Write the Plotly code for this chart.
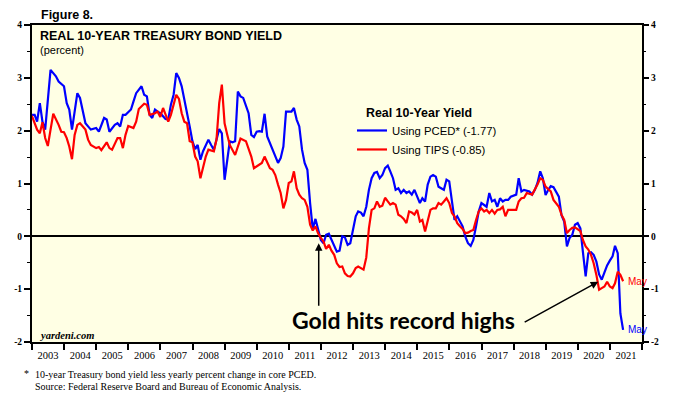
import plotly.graph_objects as go
import pandas as pd

# ---------------- data ----------------
pced_months = [
    "2002-12", "2003-01", "2003-02", "2003-03", "2003-04", "2003-05", "2003-07", "2003-09", "2003-10", "2003-12",
    "2004-01", "2004-02", "2004-03", "2004-04", "2004-05", "2004-06", "2004-07", "2004-08", "2004-10", "2004-12",
    "2005-01", "2005-03", "2005-04", "2005-05", "2005-07", "2005-08", "2005-09", "2005-10", "2005-11",
    "2006-01", "2006-02", "2006-03", "2006-05", "2006-06", "2006-07", "2006-08", "2006-09", "2006-10", "2006-11", "2006-12",
    "2007-02", "2007-03", "2007-04", "2007-05", "2007-06", "2007-07", "2007-08", "2007-09", "2007-10", "2007-11", "2007-12",
    "2008-01", "2008-02", "2008-03", "2008-04", "2008-06", "2008-07", "2008-08", "2008-09", "2008-10", "2008-11", "2008-12",
    "2009-01", "2009-02", "2009-03", "2009-04", "2009-05", "2009-06", "2009-07", "2009-09", "2009-10", "2009-11", "2009-12",
    "2010-01", "2010-02", "2010-03", "2010-04", "2010-05", "2010-06", "2010-08", "2010-09", "2010-10", "2010-11",
    "2011-01", "2011-02", "2011-03", "2011-04", "2011-05", "2011-06", "2011-07", "2011-08", "2011-09", "2011-10", "2011-11", "2011-12",
    "2012-01", "2012-02", "2012-03", "2012-04", "2012-06", "2012-07", "2012-08", "2012-09", "2012-10", "2012-11", "2012-12",
    "2013-01", "2013-02", "2013-03", "2013-04", "2013-05", "2013-06", "2013-07", "2013-08", "2013-09", "2013-10", "2013-11", "2013-12",
    "2014-01", "2014-02", "2014-03", "2014-04", "2014-05", "2014-06", "2014-07", "2014-08", "2014-09", "2014-10", "2014-11",
    "2015-01", "2015-02", "2015-03", "2015-04", "2015-05", "2015-06", "2015-07", "2015-08", "2015-09", "2015-10", "2015-11", "2015-12",
    "2016-01", "2016-02", "2016-03", "2016-04", "2016-05", "2016-06", "2016-07", "2016-08", "2016-09", "2016-10", "2016-11", "2016-12",
    "2017-01", "2017-02", "2017-03", "2017-04", "2017-05", "2017-06", "2017-07", "2017-08", "2017-09", "2017-10", "2017-11",
    "2018-01", "2018-02", "2018-03", "2018-04", "2018-06", "2018-07", "2018-08", "2018-09", "2018-10", "2018-11", "2018-12",
    "2019-01", "2019-02", "2019-03", "2019-04", "2019-05", "2019-06", "2019-07", "2019-08", "2019-09", "2019-10", "2019-11", "2019-12",
    "2020-01", "2020-02", "2020-03", "2020-04", "2020-05", "2020-06", "2020-07", "2020-08", "2020-09", "2020-10", "2020-11", "2020-12",
    "2021-01", "2021-02", "2021-03", "2021-04", "2021-05",
]
pced_values = [
    2.30, 2.30, 2.17, 2.52, 2.17, 2.02, 3.15, 3.03, 2.93, 2.84,
    2.52, 2.40, 2.02, 2.40, 2.71, 2.62, 2.40, 2.14, 2.02, 2.05,
    1.98, 2.24, 2.21, 1.98, 2.11, 2.14, 2.08, 2.30, 2.30,
    2.40, 2.55, 2.71, 2.84, 2.68, 2.65, 2.30, 2.24, 2.40, 2.36, 2.33,
    2.22, 2.21, 2.49, 2.68, 3.09, 3.00, 2.84, 2.59, 2.40, 2.08, 1.80,
    1.65, 1.73, 1.45, 1.61, 1.83, 1.73, 1.64, 1.83, 2.03, 1.95, 1.07,
    1.45, 1.80, 1.78, 1.80, 2.74, 2.65, 2.62, 2.33, 1.92, 1.88, 1.98,
    1.99, 1.98, 2.32, 1.89, 1.77, 1.64, 1.39, 1.48, 1.70, 2.36,
    2.36, 2.43, 2.21, 2.08, 1.64, 1.39, 1.26, 0.63, 0.14, 0.33, 0.12, -0.07,
    -0.13, 0.03, 0.05, -0.07, -0.29, -0.27, 0.00, -0.02, -0.16, -0.13, 0.12,
    0.38, 0.47, 0.45, 0.38, 0.56, 0.88, 1.10, 1.20, 1.22, 1.10, 1.16, 1.29,
    1.34, 1.23, 1.10, 0.88, 0.91, 0.82, 0.88, 0.82, 0.85, 0.79, 0.88,
    0.63, 0.72, 0.66, 0.98, 1.13, 1.16, 1.13, 0.94, 0.91, 0.88, 1.07, 1.04,
    0.66, 0.31, 0.38, 0.28, 0.19, 0.00, -0.13, -0.18, -0.07, 0.19, 0.47, 0.63,
    0.60, 0.56, 0.82, 0.66, 0.69, 0.56, 0.72, 0.66, 0.69, 0.69, 0.75,
    0.79, 1.10, 0.85, 0.88, 0.85, 0.79, 0.88, 1.01, 1.23, 1.10, 0.78,
    0.88, 0.95, 0.93, 0.85, 0.75, 0.40, 0.28, -0.19, -0.03, 0.03, 0.22, 0.25,
    0.15, -0.30, -0.76, -0.32, -0.30, -0.35, -0.48, -0.72, -0.82, -0.68, -0.55, -0.46,
    -0.38, -0.18, -0.32, -1.46, -1.77,
]

tips_months = [
    "2002-12", "2003-02", "2003-03", "2003-04", "2003-05", "2003-06", "2003-07", "2003-08", "2003-10", "2003-11", "2003-12",
    "2004-01", "2004-02", "2004-03", "2004-04", "2004-05", "2004-06", "2004-08", "2004-09", "2004-10", "2004-12",
    "2005-01", "2005-02", "2005-04", "2005-05", "2005-06", "2005-08", "2005-09", "2005-10", "2005-11", "2005-12",
    "2006-02", "2006-03", "2006-04", "2006-06", "2006-07", "2006-08", "2006-10", "2006-11", "2006-12",
    "2007-01", "2007-02", "2007-03", "2007-04", "2007-05", "2007-06", "2007-07", "2007-08", "2007-09", "2007-10", "2007-11", "2007-12",
    "2008-01", "2008-02", "2008-03", "2008-04", "2008-05", "2008-06", "2008-08", "2008-09", "2008-10", "2008-11", "2008-12",
    "2009-01", "2009-02", "2009-04", "2009-05", "2009-06", "2009-08", "2009-09", "2009-10", "2009-11",
    "2010-01", "2010-02", "2010-03", "2010-05", "2010-06", "2010-07", "2010-08", "2010-09", "2010-10", "2010-11", "2010-12",
    "2011-01", "2011-02", "2011-03", "2011-04", "2011-05", "2011-06", "2011-07", "2011-08", "2011-09", "2011-10", "2011-11", "2011-12",
    "2012-01", "2012-02", "2012-03", "2012-04", "2012-05", "2012-06", "2012-07", "2012-08", "2012-09", "2012-10", "2012-11", "2012-12",
    "2013-01", "2013-02", "2013-03", "2013-04", "2013-05", "2013-06", "2013-07", "2013-08", "2013-09", "2013-10", "2013-11", "2013-12",
    "2014-01", "2014-02", "2014-03", "2014-04", "2014-05", "2014-06", "2014-07", "2014-08", "2014-09", "2014-10", "2014-11", "2014-12",
    "2015-01", "2015-02", "2015-03", "2015-04", "2015-05", "2015-06", "2015-07", "2015-08", "2015-09", "2015-10", "2015-11", "2015-12",
    "2016-01", "2016-02", "2016-03", "2016-04", "2016-05", "2016-06", "2016-07", "2016-08", "2016-09", "2016-10", "2016-11", "2016-12",
    "2017-01", "2017-02", "2017-03", "2017-04", "2017-05", "2017-06", "2017-07", "2017-08", "2017-09", "2017-10", "2017-11",
    "2018-01", "2018-02", "2018-03", "2018-04", "2018-05", "2018-07", "2018-08", "2018-09", "2018-10", "2018-11", "2018-12",
    "2019-02", "2019-03", "2019-04", "2019-05", "2019-06", "2019-07", "2019-08", "2019-09", "2019-10", "2019-11",
    "2020-01", "2020-02", "2020-03", "2020-04", "2020-05", "2020-06", "2020-07", "2020-08", "2020-09", "2020-10", "2020-11", "2020-12",
    "2021-01", "2021-02", "2021-03", "2021-04", "2021-05",
]
tips_values = [
    2.28, 2.02, 1.95, 2.16, 1.86, 1.71, 2.02, 2.32, 2.11, 1.98, 1.97,
    1.86, 1.70, 1.46, 1.92, 2.11, 2.14, 2.02, 1.83, 1.73, 1.67,
    1.69, 1.63, 1.78, 1.67, 1.64, 1.86, 1.86, 1.67, 1.92, 2.09,
    2.05, 2.17, 2.41, 2.51, 2.49, 2.30, 2.33, 2.36, 2.26,
    2.43, 2.30, 2.17, 2.30, 2.52, 2.68, 2.60, 2.33, 2.17, 2.14, 1.80, 1.78,
    1.51, 1.42, 1.10, 1.32, 1.51, 1.64, 1.61, 1.83, 2.52, 2.87, 2.14,
    1.92, 1.73, 1.54, 1.70, 1.85, 1.80, 1.64, 1.51, 1.29,
    1.35, 1.39, 1.51, 1.29, 1.26, 1.16, 0.98, 0.82, 0.53, 0.69, 1.01,
    1.04, 1.23, 0.91, 0.79, 0.72, 0.69, 0.56, 0.22, 0.11, 0.19, 0.06, -0.03,
    -0.10, -0.24, -0.16, -0.27, -0.35, -0.51, -0.58, -0.57, -0.70, -0.75, -0.76, -0.70,
    -0.60, -0.57, -0.60, -0.63, -0.40, 0.15, 0.50, 0.53, 0.66, 0.56, 0.58, 0.73,
    0.66, 0.60, 0.63, 0.60, 0.41, 0.38, 0.33, 0.25, 0.47, 0.45, 0.41, 0.50,
    0.28, 0.31, 0.09, 0.31, 0.50, 0.53, 0.53, 0.63, 0.60, 0.66, 0.72, 0.63,
    0.44, 0.38, 0.25, 0.19, 0.14, 0.06, 0.07, 0.10, 0.12, 0.31, 0.47, 0.53,
    0.47, 0.50, 0.44, 0.50, 0.43, 0.50, 0.51, 0.56, 0.38, 0.50, 0.50,
    0.50, 0.66, 0.72, 0.73, 0.82, 0.79, 0.88, 0.98, 1.10, 1.07, 0.94,
    0.85, 0.69, 0.63, 0.56, 0.41, 0.31, 0.06, 0.12, 0.16, 0.17,
    0.10, -0.07, -0.19, -0.25, -0.35, -0.51, -0.73, -1.01, -0.98, -0.95, -0.86, -0.95,
    -0.98, -0.89, -0.67, -0.73, -0.85,
]

series_names = ["Using PCED* (-1.77)", "Using TIPS (-0.85)"]
y_tick_vals = [-2, -1, 0, 1, 2, 3, 4]
y_tick_text = ["-2", "-1", "0", "1", "2", "3", "4"]
y_minor_vals = [-1.5, -0.5, 0.5, 1.5, 2.5, 3.5]


def month_end(months):
    return pd.to_datetime(months, format="%Y-%m") + pd.offsets.MonthEnd(0)


pced_x = month_end(pced_months)
tips_x = month_end(tips_months)

BLUE = "#0000FF"
RED = "#FF0000"
SERIF = "Liberation Serif"
SANS = "Liberation Sans"

fig = go.Figure()
fig.add_trace(go.Scatter(x=pced_x, y=pced_values, mode="lines", name=series_names[0],
                         line=dict(color=BLUE, width=2.2)))
fig.add_trace(go.Scatter(x=tips_x, y=tips_values, mode="lines", name=series_names[1],
                         line=dict(color=RED, width=2.2), yaxis="y2"))

tickfont_y = dict(family=SERIF, size=9.5, color="black", weight="bold")

fig.update_layout(
    width=680, height=393,
    margin=dict(l=32, r=38, t=25, b=51),
    paper_bgcolor="white",
    plot_bgcolor="#FFFFE4",
    showlegend=True,
    legend=dict(x=0.5246, y=0.713, xanchor="left", yanchor="top",
                bgcolor="rgba(0,0,0,0)", borderwidth=0,
                font=dict(family=SANS, size=11.3, color="black"),
                itemwidth=30, tracegroupgap=0),
    xaxis=dict(type="date", range=["2003-01-01", "2022-01-01"],
               dtick="M12", tick0="2003-01-01", tickformat="%Y", ticklabelmode="period",
               ticks="outside", ticklen=6, tickwidth=1.5, tickcolor="black",
               ticklabelstandoff=-4,
               showline=True, linecolor="black", linewidth=2, mirror=True,
               showgrid=False, zeroline=False,
               tickfont=dict(family=SERIF, size=10.5, color="black")),
    yaxis=dict(range=[-2, 4], tickvals=y_tick_vals, ticktext=y_tick_text,
               ticks="outside", ticklen=6, tickwidth=1.5, tickcolor="black",
               minor=dict(tickvals=y_minor_vals, ticks="outside",
                          ticklen=3, tickwidth=1.2, tickcolor="black"),
               showline=True, linecolor="black", linewidth=2, mirror=True,
               showgrid=False, zeroline=True, zerolinecolor="black", zerolinewidth=1.5,
               tickfont=tickfont_y),
    yaxis2=dict(range=[-2, 4], overlaying="y", side="right", matches="y",
                tickvals=y_tick_vals, ticktext=y_tick_text,
                ticks="outside", ticklen=6, tickwidth=1.5, tickcolor="black",
                minor=dict(tickvals=y_minor_vals, ticks="outside",
                           ticklen=3, tickwidth=1.2, tickcolor="black"),
                showline=False, showgrid=False, zeroline=False,
                tickfont=tickfont_y),
)

W, H, L, T = 610.0, 317.0, 32.0, 25.0


def px(xp):
    return (xp - L) / W


def py(yp):
    return 1 - (yp - T) / H


ann = []
ann.append(dict(text="<b>Figure 8.</b>", x=px(39), y=py(15), xref="paper", yref="paper",
                xanchor="left", yanchor="middle", showarrow=False,
                font=dict(family=SANS, size=12.5, color="black")))
ann.append(dict(text="<b>REAL 10-YEAR TREASURY BOND YIELD</b>", x=px(38), y=py(36),
                xref="paper", yref="paper", xanchor="left", yanchor="middle", showarrow=False,
                font=dict(family=SANS, size=12.5, color="black")))
ann.append(dict(text="(percent)", x=px(38), y=py(50), xref="paper", yref="paper",
                xanchor="left", yanchor="middle", showarrow=False,
                font=dict(family=SANS, size=11, color="black")))
ann.append(dict(text="<b>Real 10-Year Yield</b>", x=px(364), y=py(113), xref="paper", yref="paper",
                xanchor="left", yanchor="middle", showarrow=False,
                font=dict(family=SANS, size=12.4, color="black")))
ann.append(dict(text="<b><i>yardeni.com</i></b>", x=px(37), y=py(335), xref="paper", yref="paper",
                xanchor="left", yanchor="middle", showarrow=False,
                font=dict(family=SERIF, size=10.5, color="black")))
ann.append(dict(text="<b>Gold hits record highs</b>", x=px(403), y=py(320), xref="paper", yref="paper",
                xanchor="center", yanchor="middle", showarrow=False,
                font=dict(family="Lato", size=23, color="black")))
ann.append(dict(text="*", x=px(22), y=py(373), xref="paper", yref="paper",
                xanchor="left", yanchor="middle", showarrow=False,
                font=dict(family=SERIF, size=10, color="black")))
ann.append(dict(text="10-year Treasury bond yield less yearly percent change in core PCED.",
                x=px(33), y=py(374), xref="paper", yref="paper",
                xanchor="left", yanchor="middle", showarrow=False,
                font=dict(family=SERIF, size=10, color="black")))
ann.append(dict(text="Source: Federal Reserve Board and Bureau of Economic Analysis.",
                x=px(33), y=py(386), xref="paper", yref="paper",
                xanchor="left", yanchor="middle", showarrow=False,
                font=dict(family=SERIF, size=10, color="black")))
# end-of-series labels
ann.append(dict(text="May", x=tips_x[-1], y=tips_values[-1], xref="x", yref="y",
                xanchor="left", yanchor="middle", xshift=3, showarrow=False,
                font=dict(family=SANS, size=10, color=RED)))
ann.append(dict(text="May", x=pced_x[-1], y=pced_values[-1], xref="x", yref="y",
                xanchor="left", yanchor="middle", xshift=3, showarrow=False,
                font=dict(family=SANS, size=10, color=BLUE)))
# arrows
ann.append(dict(text="", x="2011-12-07", y=-0.13, xref="x", yref="y",
                ax="2011-12-07", ay=-1.34, axref="x", ayref="y",
                showarrow=True, arrowhead=2, arrowsize=1, arrowwidth=1.5, arrowcolor="black"))
ann.append(dict(text="", x="2020-08-21", y=-0.86, xref="x", yref="y",
                ax="2018-04-20", ay=-1.64, axref="x", ayref="y",
                showarrow=True, arrowhead=2, arrowsize=1, arrowwidth=1.5, arrowcolor="black"))

fig.update_layout(annotations=ann)

fig.write_html("out.html",
               config={"displayModeBar": False},
               post_script="document.body.style.margin='0';document.body.style.padding='0';")
